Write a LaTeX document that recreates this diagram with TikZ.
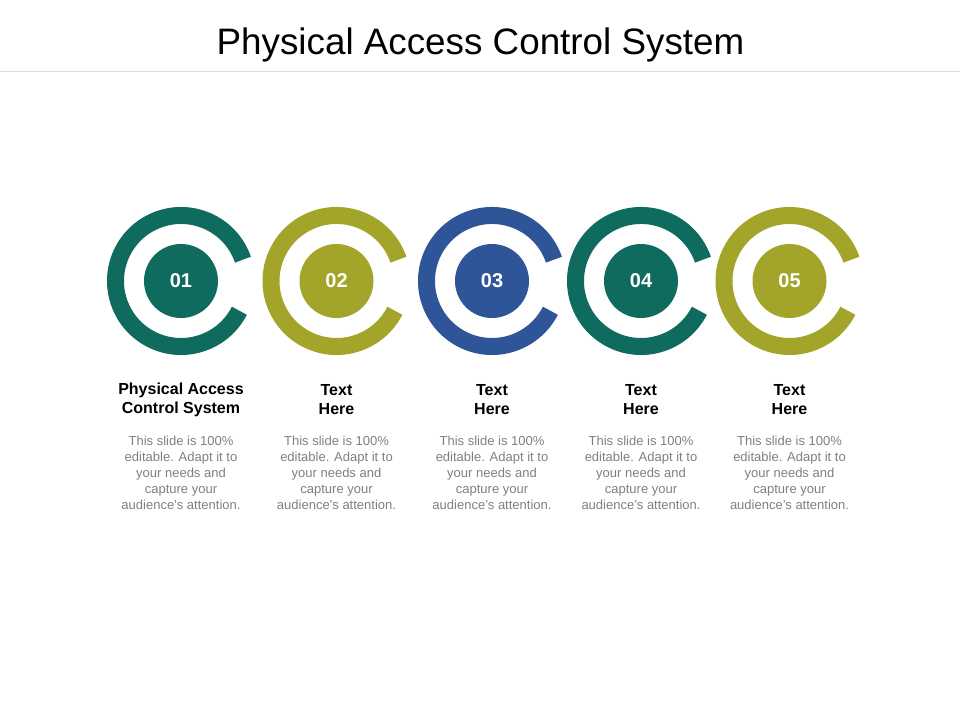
\documentclass[tikz,border=0pt]{standalone}
\usepackage{fontspec}
\setmainfont{Liberation Sans}
\definecolor{ringteal}{HTML}{0E6B5E}
\definecolor{ringolive}{HTML}{A3A52A}
\definecolor{ringblue}{HTML}{2E5597}
\definecolor{desctext}{HTML}{7F7F7F}
\definecolor{rulegray}{HTML}{DDDDDD}
\begin{document}
\begin{tikzpicture}[x=1pt, y=1pt,
  ring/.style={line width=17pt},
  disk/.style={circle, minimum size=74pt, inner sep=0pt, text=white, font=\fontsize{20}{24}\selectfont\bfseries},
  head/.style={align=center, font=\fontsize{16}{19}\selectfont\bfseries},
  desc/.style={align=center, text=desctext, font=\fontsize{13}{16}\selectfont}]
\useasboundingbox (0,0) rectangle (960,720);

% Title and the rule under it
\node[anchor=base, font=\fontsize{36.8}{40}\selectfont] (title) at (480.5, 665) {Physical Access Control System};
\coordinate (ruleL) at (0, 648);
\coordinate (ruleR) at (960, 648);
\draw[rulegray, line width=1pt] (ruleL) -- (ruleR);

% Draw the rings and insert the numbers
\draw[ring, ringteal] (181, 439) ++(19:65.5) arc[start angle=19, end angle=333, radius=65.5];
\node[disk, fill=ringteal] (num1) at (181, 439) {01};
\draw[ring, ringolive] (336.5, 439) ++(19:65.5) arc[start angle=19, end angle=333, radius=65.5];
\node[disk, fill=ringolive] (num2) at (336.5, 439) {02};
\draw[ring, ringblue] (492, 439) ++(19:65.5) arc[start angle=19, end angle=333, radius=65.5];
\node[disk, fill=ringblue] (num3) at (492, 439) {03};
\draw[ring, ringteal] (641, 439) ++(19:65.5) arc[start angle=19, end angle=333, radius=65.5];
\node[disk, fill=ringteal] (num4) at (641, 439) {04};
\draw[ring, ringolive] (789.5, 439) ++(19:65.5) arc[start angle=19, end angle=333, radius=65.5];
\node[disk, fill=ringolive] (num5) at (789.5, 439) {05};

% Headings and the texts under them
\node[head] (head1) at (181, 320) {Physical Access\\Control System};
\node[desc] (desc1) at (181, 247.5) {This slide is 100\%\\editable. Adapt it to\\your needs and\\capture your\\audience's attention.};
\node[head] (head2) at (336.5, 320) {Text\\Here};
\node[desc] (desc2) at (336.5, 247.5) {This slide is 100\%\\editable. Adapt it to\\your needs and\\capture your\\audience's attention.};
\node[head] (head3) at (492, 320) {Text\\Here};
\node[desc] (desc3) at (492, 247.5) {This slide is 100\%\\editable. Adapt it to\\your needs and\\capture your\\audience's attention.};
\node[head] (head4) at (641, 320) {Text\\Here};
\node[desc] (desc4) at (641, 247.5) {This slide is 100\%\\editable. Adapt it to\\your needs and\\capture your\\audience's attention.};
\node[head] (head5) at (789.5, 320) {Text\\Here};
\node[desc] (desc5) at (789.5, 247.5) {This slide is 100\%\\editable. Adapt it to\\your needs and\\capture your\\audience's attention.};
\end{tikzpicture}
\end{document}
